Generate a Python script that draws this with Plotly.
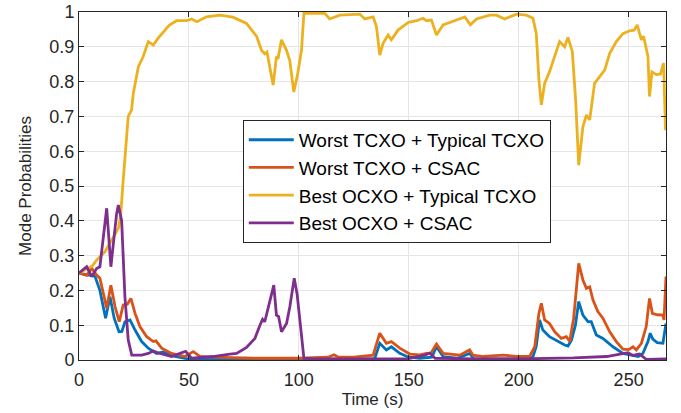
import plotly.graph_objects as go

# ---- data ----
names = ["Worst TCXO + Typical TCXO", "Worst TCXO + CSAC",
         "Best OCXO + Typical TCXO", "Best OCXO + CSAC"]
colors = ["#0072BD", "#D95319", "#EDB120", "#7E2F8E"]

x_ttcxo = [0, 4.2, 7.3, 9.5, 12.1, 14.1, 16, 18.2, 19.5, 20.9, 23.2, 25.5, 28.5, 31.5, 35.3, 38.3,
           43.6, 49.7, 60, 80, 100, 120, 134.5, 136.8, 139.8, 142.1, 145.9, 150, 155, 160.5, 162.6,
           165.6, 172, 177.7, 179.5, 190, 205, 206.5, 208, 209.5, 211, 214, 217.9, 220.9, 222.4,
           224, 225.8, 227.3, 229.2, 231.5, 233, 235.3, 238.3, 242.9, 247.4, 252, 254.4, 256.5,
           258.8, 259.8, 261, 263, 265.6, 267]
y_ttcxo = [.25, .244, .24, .20, .12, .182, .12, .081, .082, .11, .115, .086, .053, .034, .019, .023,
           .01, .003, .002, .002, .002, .002, .004, .048, .029, .038, .019, .008, .005, .008, .038,
           .01, .005, .019, .004, .003, .003, .01, .04, .115, .086, .067, .053, .043, .04,
           .057, .1, .168, .129, .11, .11, .072, .062, .038, .019, .014, .01, .019,
           .053, .077, .06, .05, .048, .105]

x_tcsac = [0, 3.5, 5.8, 8, 9.5, 12.6, 14.5, 16.4, 18.3, 20.1, 22, 23.6, 25.5, 27.7, 30.8, 33.8, 35,
           37.6, 42.1, 48.2, 52, 55.1, 60, 80, 100, 113.3, 116, 118, 125, 129.2, 133.8, 136.8,
           139.8, 142.1, 145.9, 150.5, 155, 158, 160, 162.6, 165.6, 173.2, 177.7, 179.2, 184,
           192.9, 200, 205, 207.3, 209.2, 210.3, 211.8, 214, 216.4, 219.4, 221.7, 223.2, 225,
           227.3, 229.2, 230.8, 232.3, 233.8, 236, 238.3, 241.4, 244.4, 247.4, 250, 252, 253.5,
           255.8, 258, 259.5, 260.8, 263, 265.6, 266.1, 267]
y_tcsac = [.25, .243, .263, .244, .235, .149, .215, .153, .11, .158, .16, .177, .134, .096, .067, .053, .055,
           .034, .019, .01, .024, .01, .008, .005, .005, .008, .015, .008, .008, .011, .014, .077,
           .048, .053, .034, .017, .015, .019, .019, .046, .019, .014, .029, .014, .01,
           .014, .01, .011, .038, .134, .163, .115, .105, .081, .062, .067, .053, .12,
           .278, .23, .206, .21, .172, .139, .12, .081, .053, .031, .03, .038, .029,
           .048, .096, .177, .134, .13, .129, .115, .24]

x_otcxo = [0, 3, 6, 8, 10, 11.8, 13.5, 15.5, 17.1, 18, 19, 20.1, 21.4, 22.4, 23.9, 24.7, 27, 29.2,
           31.5, 33.8, 36, 38.3, 41, 44.4, 49, 51.2, 53.6, 58, 64, 70, 76.2, 80.8, 83, 84.5, 85.5,
           88.3, 89.8, 90.5, 92.1, 94.4, 95.9, 97.7, 99.4, 101.2, 102.3, 106.5, 111.8, 114, 118.6,
           127.7, 130, 133.8, 135.3, 136.8, 138.3, 140.6, 142.1, 145.1, 149.7, 153.5, 156.5, 158,
           160.3, 162.6, 165.6, 171.7, 175.5, 178, 180.8, 186.8, 189.9, 193.6, 199, 203.5, 206.5,
           208, 209.2, 210.3, 211.8, 214, 216.4, 218.6, 220.9, 222.4, 224.4, 225.9, 227.3, 229.2,
           230.8, 232.3, 234.5, 236.8, 239.1, 241.4, 244.4, 247.4, 250.5, 252.5, 253.9, 255.8,
           256.8, 258.8, 259.5, 260.6, 262.6, 264.5, 265.9, 266.8]
y_otcxo = [.25, .26, .27, .287, .30, .311, .33, .35, .369, .38, .42, .517, .613, .70, .718, .766, .843, .872,
           .915, .905, .925, .943, .962, .975, .975, .98, .972, .986, .991, .985, .967, .93, .89, .88, .885,
           .79, .872, .865, .92, .89, .86, .77, .82, .89, .996, .997, .996, .98, .991,
           .994, .98, .986, .958, .876, .91, .934, .92, .948, .97, .975, .982, .975,
           .977, .934, .963, .977, .986, .963, .98, .991, .991, .98, .994, .991, .982,
           .938, .805, .733, .795, .828, .872, .915, .90, .927, .886, .747, .56, .67,
           .704, .69, .795, .815, .833, .881, .915, .938, .946, .948, .963, .92,
           .93, .872, .757, .828, .82, .822, .853, .66]

x_ocsac = [0, 3.5, 5.8, 8, 9.5, 11.8, 12.6, 14.5, 17.1, 17.9, 19.4, 20.9, 22.4, 24, 28.5, 31.5, 33.8,
           36.1, 42.1, 46, 48.5, 51.2, 61, 68.6, 71.7, 76.2, 80, 82.3, 83.5, 84.5, 86.8, 88.6, 89.8,
           90.8, 92.1, 94.4, 95.9, 97.9, 99.2, 100.5, 102.3, 106.5, 113.3, 120, 150, 157.3, 159.5,
           162, 180, 200, 225, 240, 249.7, 252, 255, 258, 262, 267]
y_ocsac = [.25, .268, .24, .263, .268, .383, .436, .268, .42, .445, .40, .18, .057, .014, .014, .019, .026,
           .02, .01, .019, .025, .005, .01, .017, .019, .036, .062, .1, .117, .11, .172, .215, .129,
           .125, .081, .105, .153, .235, .19, .115, .005, .003, .003, .004, .004, .014, .02,
           .005, .003, .003, .006, .01, .021, .013, .017, .002, .002, .003]

x_ticks = [0, 50, 100, 150, 200, 250]
y_ticks = [0, 0.1, 0.2, 0.3, 0.4, 0.5, 0.6, 0.7, 0.8, 0.9, 1]

series = [(x_ttcxo, y_ttcxo), (x_tcsac, y_tcsac), (x_otcxo, y_otcxo), (x_ocsac, y_ocsac)]

fig = go.Figure()
for (xs, ys), nm, c in zip(series, names, colors):
    fig.add_trace(go.Scatter(x=xs, y=ys, mode="lines", name=nm,
                             line=dict(color=c, width=2.8)))

font_family = "Liberation Sans, Arial, Helvetica, sans-serif"
axis_common = dict(showline=True, linecolor="#262626", linewidth=1, mirror="ticks",
                   ticks="inside", ticklen=5, tickcolor="#262626", automargin=False,
                   showgrid=True, gridcolor="#e5e5e5", gridwidth=1, zeroline=False,
                   tickfont=dict(family=font_family, size=18, color="#262626"))

fig.update_layout(
    width=681, height=413,
    margin=dict(l=79, r=15, t=12, b=53),
    paper_bgcolor="white", plot_bgcolor="white",
    font=dict(family=font_family, color="#262626"),
    xaxis=dict(range=[0, 267], tickvals=x_ticks, ticklabelstandoff=3,
               title=dict(text="Time (s)", font=dict(size=17), standoff=2), **axis_common),
    yaxis=dict(range=[0, 1], tickvals=y_ticks,
               title=dict(text="Mode Probabilities", font=dict(size=17), standoff=13), **axis_common),
    legend=dict(x=0.279, y=0.69, xanchor="left", yanchor="top",
                bgcolor="white", bordercolor="#262626", borderwidth=1,
                font=dict(size=19, color="#000000", family=font_family),
                itemwidth=45, tracegroupgap=0),
    showlegend=True,
)

fig.write_html("out.html", config={"displayModeBar": False},
               post_script="document.body.style.margin='0';")
